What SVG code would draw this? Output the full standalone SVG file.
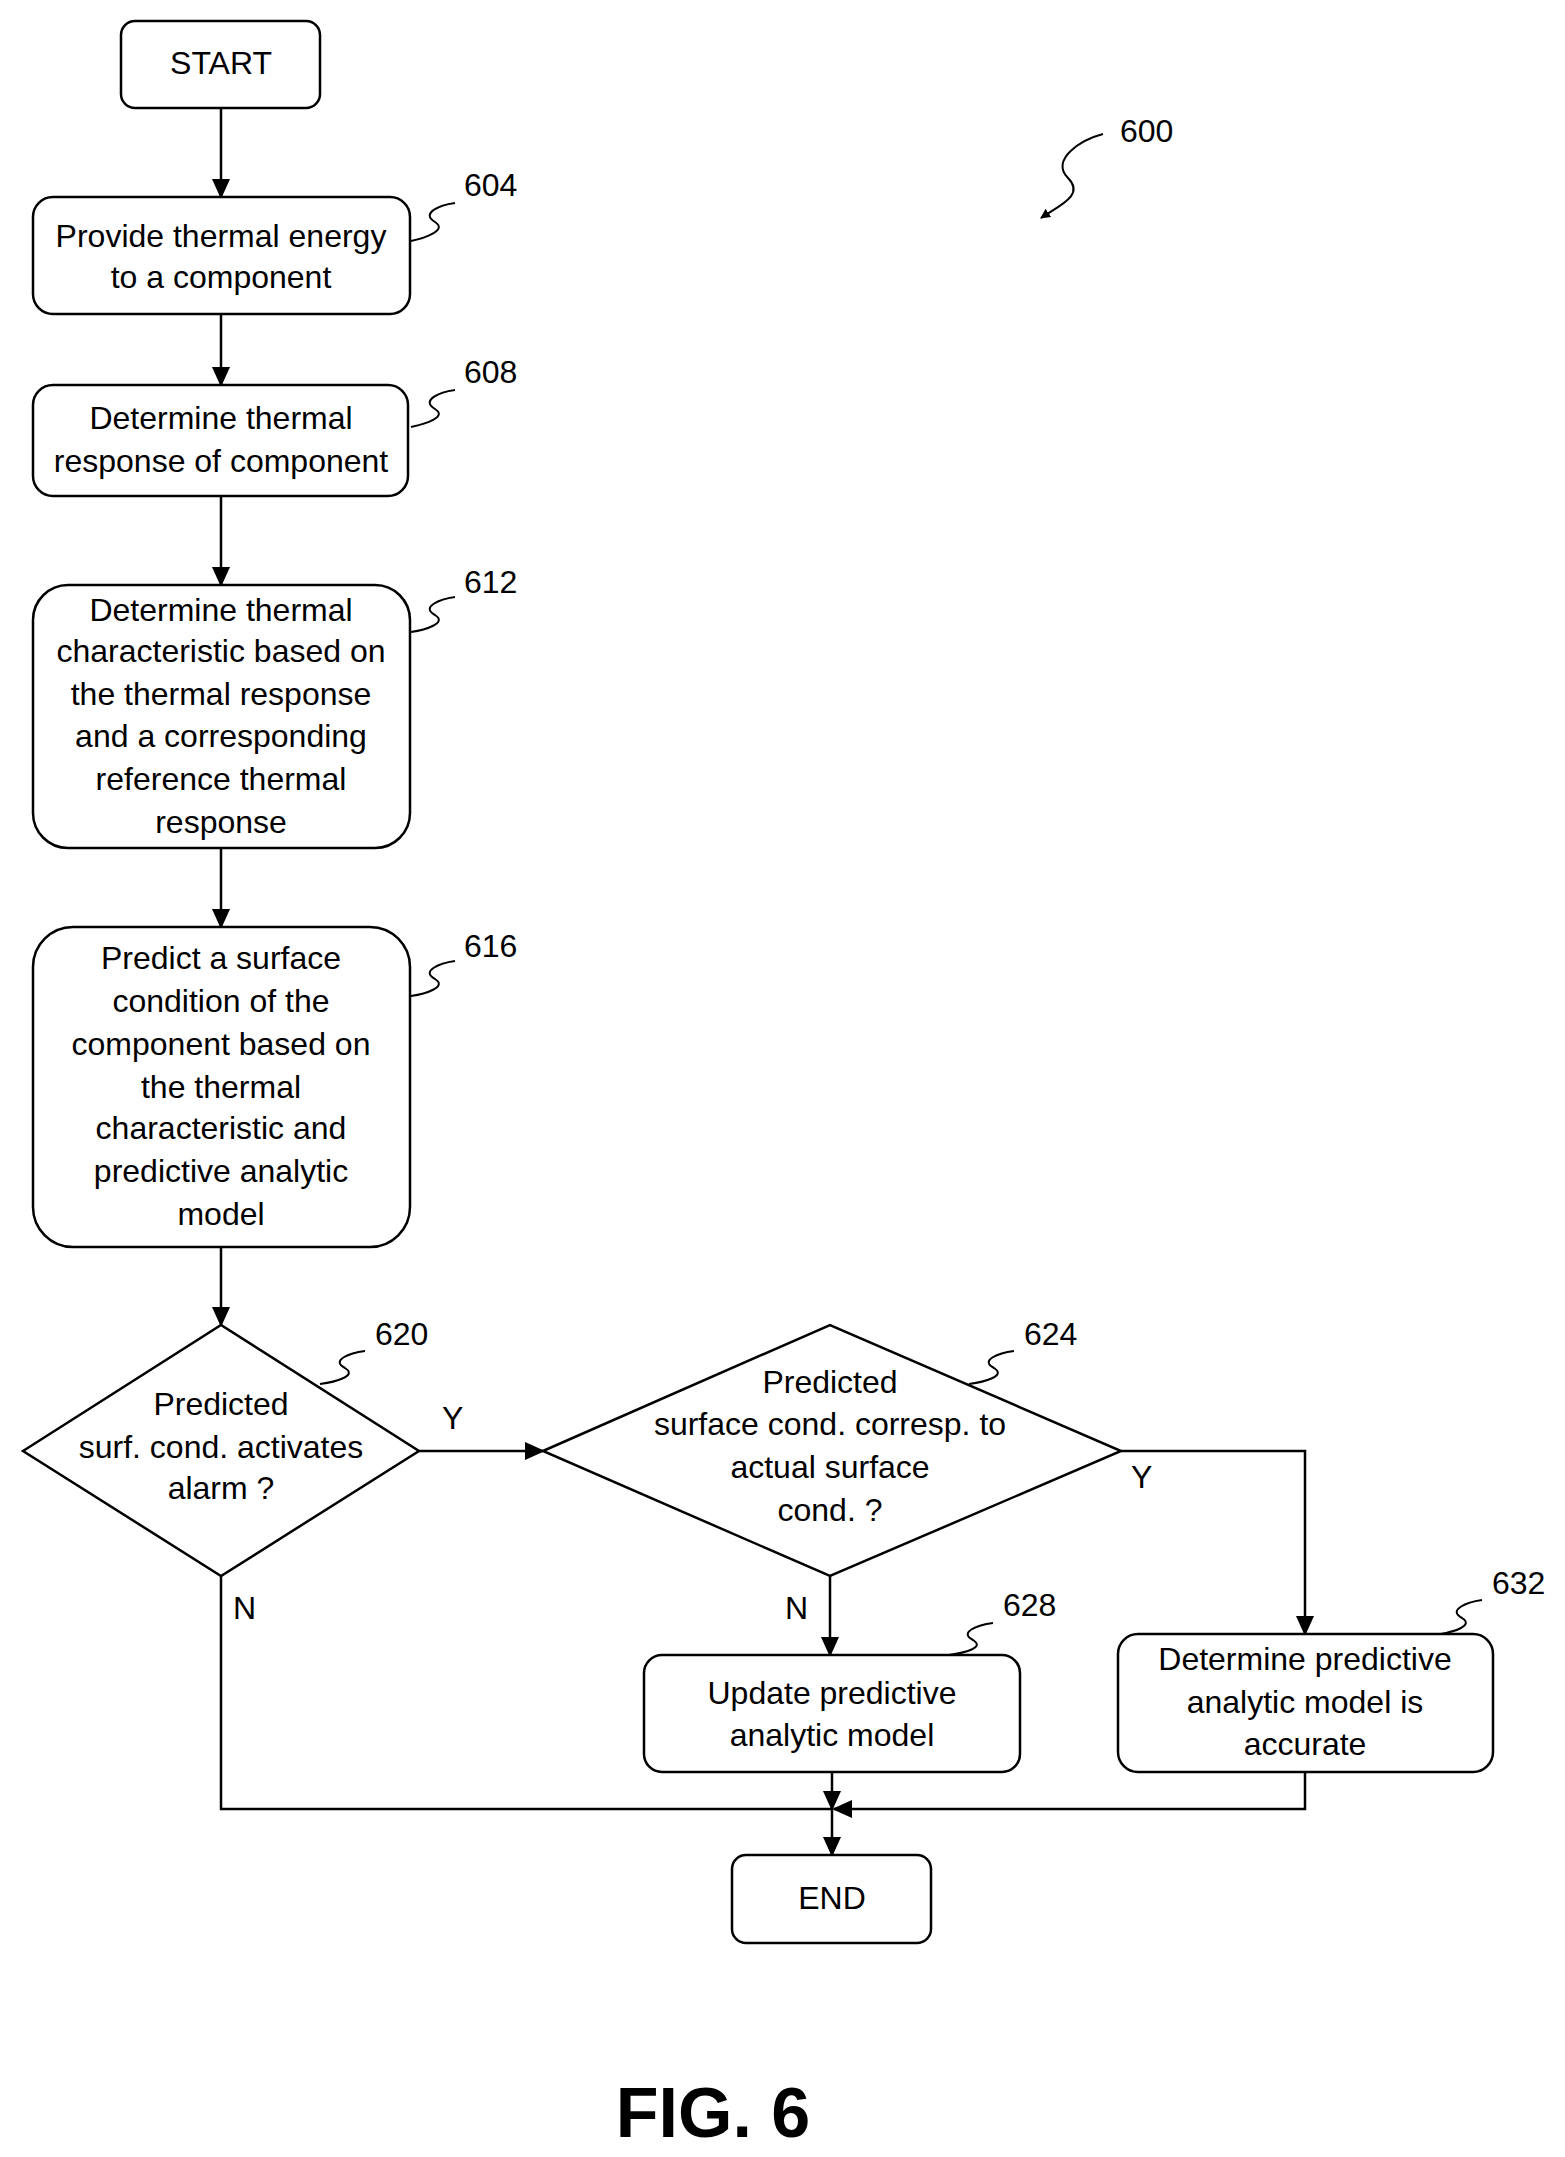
<svg xmlns="http://www.w3.org/2000/svg" width="1565" height="2157" viewBox="0 0 1565 2157">
<style>
.n{fill:#fff;stroke:#000;stroke-width:2.5}
.t{font-family:"Liberation Sans",Arial,sans-serif;font-size:32px;text-anchor:middle;dominant-baseline:central;fill:#000}
.l{font-family:"Liberation Sans",Arial,sans-serif;font-size:32px;fill:#000;dominant-baseline:central}
.c{fill:none;stroke:#000;stroke-width:2.5}
.s{fill:none;stroke:#000;stroke-width:2}
</style>
<defs><marker id="a" markerWidth="10" markerHeight="10" refX="9" refY="5" orient="auto" markerUnits="userSpaceOnUse" viewBox="0 0 10 10"><path d="M0,0 L10,5 L0,10 z" fill="#000"/></marker>
<marker id="b" markerWidth="20" markerHeight="20" refX="18" refY="10" orient="auto" markerUnits="userSpaceOnUse" viewBox="0 0 20 20"><path d="M0,1 L20,10 L0,19 z" fill="#000"/></marker></defs>
<rect width="1565" height="2157" fill="#fff"/>
<g id="connectors">
<path class="c" marker-end="url(#b)" d="M221,108V197"/>
<path class="c" marker-end="url(#b)" d="M221,314V385"/>
<path class="c" marker-end="url(#b)" d="M221,496V585"/>
<path class="c" marker-end="url(#b)" d="M221,848V927"/>
<path class="c" marker-end="url(#b)" d="M221,1247V1325"/>
<path class="c" marker-end="url(#b)" d="M419,1451H543"/>
<path class="c" marker-end="url(#b)" d="M1121,1451H1305V1634"/>
<path class="c" marker-end="url(#b)" d="M830,1576V1655"/>
<path class="c" marker-end="url(#b)" d="M832,1772V1809"/>
<path class="c" d="M221,1576V1809H832"/>
<path class="c" marker-end="url(#b)" d="M1305,1772V1809H834"/>
<path class="c" marker-end="url(#b)" d="M832,1809V1855"/>
<text class="l" x="442" y="1418">Y</text>
<text class="l" x="233" y="1608">N</text>
<text class="l" x="785" y="1608">N</text>
<text class="l" x="1131" y="1477">Y</text>
</g>
<g id="start"><rect class="n" x="121" y="21" width="199" height="87" rx="14"/><text class="t" x="221" y="63">START</text></g>
<g id="n604"><rect class="n" x="33" y="197" width="377" height="117" rx="20"/><text class="t" x="221" y="236">Provide thermal energy</text><text class="t" x="221" y="277">to a component</text></g>
<g id="n608"><rect class="n" x="33" y="385" width="375" height="111" rx="20"/><text class="t" x="221" y="418">Determine thermal</text><text class="t" x="221" y="461">response of component</text></g>
<g id="n612"><rect class="n" x="33" y="585" width="377" height="263" rx="35"/><text class="t" x="221" y="610">Determine thermal</text><text class="t" x="221" y="651">characteristic based on</text><text class="t" x="221" y="694">the thermal response</text><text class="t" x="221" y="736">and a corresponding</text><text class="t" x="221" y="779">reference thermal</text><text class="t" x="221" y="822">response</text></g>
<g id="n616"><rect class="n" x="33" y="927" width="377" height="320" rx="40"/><text class="t" x="221" y="958">Predict a surface</text><text class="t" x="221" y="1001">condition of the</text><text class="t" x="221" y="1044">component based on</text><text class="t" x="221" y="1087">the thermal</text><text class="t" x="221" y="1128">characteristic and</text><text class="t" x="221" y="1171">predictive analytic</text><text class="t" x="221" y="1214">model</text></g>
<g id="n620"><polygon class="n" points="23,1451 221,1325 419,1451 221,1576"/><text class="t" x="221" y="1404">Predicted</text><text class="t" x="221" y="1447">surf. cond. activates</text><text class="t" x="221" y="1488">alarm ?</text></g>
<g id="n624"><polygon class="n" points="543,1451 830,1325 1121,1451 830,1576"/><text class="t" x="830" y="1382">Predicted</text><text class="t" x="830" y="1424">surface cond. corresp. to</text><text class="t" x="830" y="1467">actual surface</text><text class="t" x="830" y="1510">cond. ?</text></g>
<g id="n628"><rect class="n" x="644" y="1655" width="376" height="117" rx="18"/><text class="t" x="832" y="1693">Update predictive</text><text class="t" x="832" y="1735">analytic model</text></g>
<g id="n632"><rect class="n" x="1118" y="1634" width="375" height="138" rx="20"/><text class="t" x="1305" y="1659">Determine predictive</text><text class="t" x="1305" y="1702">analytic model is</text><text class="t" x="1305" y="1744">accurate</text></g>
<g id="end"><rect class="n" x="732" y="1855" width="199" height="88" rx="14"/><text class="t" x="832" y="1898">END</text></g>
<g id="refs">
<text class="l" x="1120" y="131">600</text>
<path class="s" marker-end="url(#a)" d="M1103,134 C1080,140 1050,160 1068,178 C1085,195 1060,205 1041,218"/>
<text class="l" x="464" y="185">604</text><path class="s" d="M455,203 C440,205 420,213 435,222 C448,230 425,238 411,241"/>
<text class="l" x="464" y="372">608</text><path class="s" d="M455,390 C440,392 420,400 435,409 C448,417 425,424 411,427"/>
<text class="l" x="464" y="582">612</text><path class="s" d="M455,597 C440,599 420,607 435,615 C448,623 425,630 411,632"/>
<text class="l" x="464" y="946">616</text><path class="s" d="M455,961 C440,963 420,971 435,979 C448,987 425,994 411,996"/>
<text class="l" x="375" y="1334">620</text><path class="s" d="M365,1351 C350,1353 330,1360 345,1368 C358,1376 335,1382 320,1384"/>
<text class="l" x="1024" y="1334">624</text><path class="s" d="M1014,1351 C999,1353 979,1360 994,1368 C1007,1376 984,1382 969,1384"/>
<text class="l" x="1003" y="1605">628</text><path class="s" d="M993,1623 C978,1625 958,1632 973,1640 C986,1648 963,1653 949,1655"/>
<text class="l" x="1492" y="1583">632</text><path class="s" d="M1482,1600 C1467,1602 1447,1610 1462,1618 C1475,1626 1452,1632 1441,1634"/>
</g>
<text x="713" y="2113" font-family="Liberation Sans,Arial,sans-serif" font-size="70" font-weight="bold" text-anchor="middle" dominant-baseline="central">FIG. 6</text>
</svg>
